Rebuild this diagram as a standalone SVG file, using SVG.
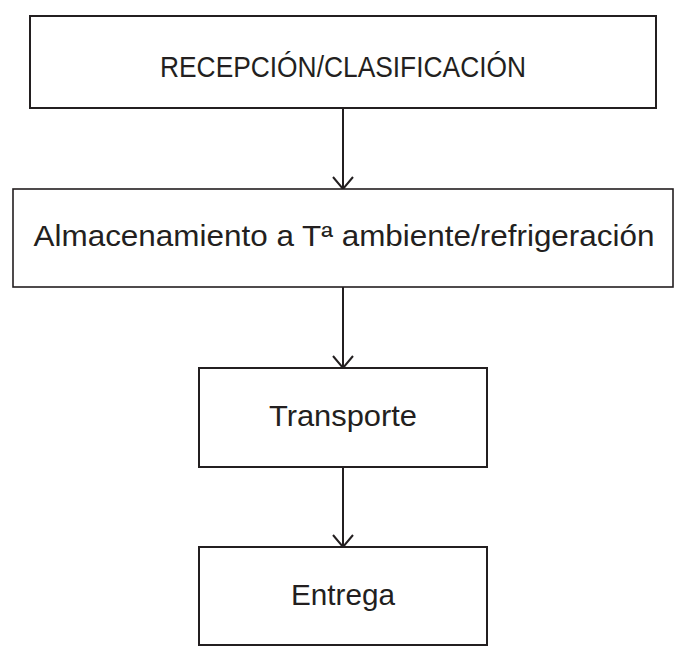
<svg xmlns="http://www.w3.org/2000/svg" width="677" height="652" viewBox="0 0 677 652">
  <style>
    .box { fill: #ffffff; stroke: #231f20; stroke-width: 2; }
    .thin { stroke-width: 1.6; }
    .lbl { font-family: "Liberation Sans", Arial, sans-serif; fill: #231f20; text-anchor: middle; }
    .conn { stroke: #231f20; stroke-width: 2; fill: none; }
  </style>
  <defs>
    <marker id="arr" markerUnits="userSpaceOnUse" viewBox="-2 -2 16 24" refX="12" refY="10" markerWidth="16" markerHeight="24" orient="auto" overflow="visible">
      <path d="M0,0 L12,10 L0,20" fill="none" stroke="#231f20" stroke-width="2"/>
    </marker>
  </defs>
  <rect width="677" height="652" fill="#ffffff"/>
  <g id="connectors">
    <line class="conn" x1="343" y1="108" x2="343" y2="189" marker-end="url(#arr)"/>
    <line class="conn" x1="343" y1="287" x2="343" y2="368" marker-end="url(#arr)"/>
    <line class="conn" x1="343" y1="467" x2="343" y2="547" marker-end="url(#arr)"/>
  </g>
  <g id="recepcion">
    <rect class="box" x="30" y="16" width="626" height="92"/>
    <text class="lbl" x="343" y="77" font-size="30" textLength="366" lengthAdjust="spacingAndGlyphs">RECEPCIÓN/CLASIFICACIÓN</text>
  </g>
  <g id="almacenamiento">
    <rect class="box thin" x="13" y="189" width="660" height="98"/>
    <text class="lbl" x="344" y="246" font-size="29" textLength="621" lengthAdjust="spacingAndGlyphs">Almacenamiento a Tª ambiente/refrigeración</text>
  </g>
  <g id="transporte">
    <rect class="box" x="199" y="368" width="288" height="99"/>
    <text class="lbl" x="343" y="426" font-size="30" textLength="148" lengthAdjust="spacingAndGlyphs">Transporte</text>
  </g>
  <g id="entrega">
    <rect class="box" x="199" y="547" width="288" height="98"/>
    <text class="lbl" x="343" y="605" font-size="30" textLength="104" lengthAdjust="spacingAndGlyphs">Entrega</text>
  </g>
</svg>
